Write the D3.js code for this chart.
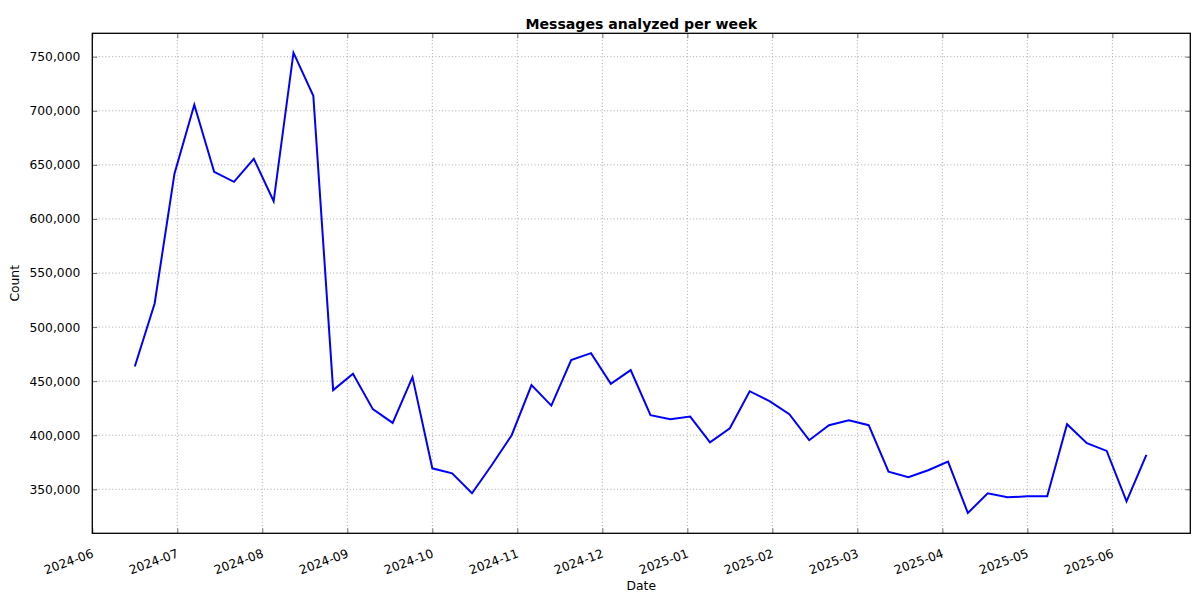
<!DOCTYPE html>
<html>
<head>
<meta charset="utf-8">
<script src="https://cdn.jsdelivr.net/npm/d3@7"></script>
<style>
  html, body { margin: 0; padding: 0; background: #fff; }
  svg { display: block; }
  svg text { font-family: "DejaVu Sans", sans-serif; }
</style>
</head>
<body>
<svg id="chart" width="1200" height="600"></svg>
<script>
const weeks = [
  "2024-07-01","2024-07-08","2024-07-15","2024-07-22","2024-07-29",
  "2024-08-05","2024-08-12","2024-08-19","2024-08-26",
  "2024-09-02","2024-09-09","2024-09-16","2024-09-23","2024-09-30",
  "2024-10-07","2024-10-14","2024-10-21","2024-10-28",
  "2024-11-04","2024-11-11","2024-11-18","2024-11-25",
  "2024-12-02","2024-12-09","2024-12-16","2024-12-23","2024-12-30",
  "2025-01-06","2025-01-13","2025-01-20","2025-01-27",
  "2025-02-03","2025-02-10","2025-02-17","2025-02-24",
  "2025-03-03","2025-03-10","2025-03-17","2025-03-24","2025-03-31",
  "2025-04-07","2025-04-14","2025-04-21","2025-04-28",
  "2025-05-05","2025-05-12","2025-05-19","2025-05-26",
  "2025-06-02","2025-06-09","2025-06-16","2025-06-23"
];
const counts = [
  463500, 521800, 641900, 705600, 643500,
  634300, 655600, 616300, 753700,
  713900, 441700, 456800, 424100, 411400,
  453700, 369400, 364800, 346300,
  372500, 400000, 446300, 427400,
  469400, 475900, 447500, 460200, 418500,
  414800, 417200, 393500, 406500,
  440700, 431500, 419400, 395400,
  409300, 413900, 409300, 366300, 361100,
  367600, 375600, 328100, 346300,
  342600, 343500, 343500, 410200,
  392600, 385500, 338900, 381800
];
const xTickDates = [
  "2024-06-16","2024-07-16","2024-08-15","2024-09-14","2024-10-14",
  "2024-11-13","2024-12-13","2025-01-12","2025-02-11","2025-03-13",
  "2025-04-12","2025-05-12","2025-06-11"
];
const xTickLabels = [
  "2024-06","2024-07","2024-08","2024-09","2024-10",
  "2024-11","2024-12","2025-01","2025-02","2025-03",
  "2025-04","2025-05","2025-06"
];
const yTicks = [350000, 400000, 450000, 500000, 550000, 600000, 650000, 700000, 750000];
const xDomain = ["2024-06-16T00:00:00Z", "2025-07-08T12:00:00Z"];
const yDomain = [309316, 771637];

(function () {
const FONT = '"DejaVu Sans", sans-serif';
const parse = s => new Date(s.length === 10 ? s + "T00:00:00Z" : s);
const data = weeks.map((w, i) => ({ date: parse(w), value: counts[i] }));

const pL = 92.3, pR = 1190.3, pT = 33.3, pB = 533.3;
const svg = d3.select("#chart");

const x = d3.scaleUtc().domain(xDomain.map(parse)).range([pL, pR]);
const y = d3.scaleLinear().domain(yDomain).range([pB, pT]);

const tickDates = xTickDates.map(parse);
const gridColor = "#a8a8a8";

// grid
const grid = svg.append("g");
grid.selectAll("line.vx").data(tickDates).join("line")
  .attr("x1", d => x(d)).attr("x2", d => x(d))
  .attr("y1", pT).attr("y2", pB)
  .attr("stroke", gridColor).attr("stroke-width", 1)
  .attr("stroke-dasharray", "1,2.3");
grid.selectAll("line.hy").data(yTicks).join("line")
  .attr("x1", pL).attr("x2", pR)
  .attr("y1", d => y(d)).attr("y2", d => y(d))
  .attr("stroke", gridColor).attr("stroke-width", 1)
  .attr("stroke-dasharray", "1,2.3");

// bottom axis (inward ticks)
const xAxis = d3.axisBottom(x).tickValues(tickDates)
  .tickFormat((d, i) => xTickLabels[i]).tickSizeInner(-5).tickSizeOuter(0);
const gx = svg.append("g").attr("transform", `translate(0,${pB})`).call(xAxis)
  .attr("font-family", FONT);
gx.select(".domain").remove();
gx.selectAll(".tick line").attr("stroke", "#707070");
gx.selectAll(".tick text")
  .attr("font-size", 12.3).attr("fill", "#000")
  .attr("text-anchor", "end")
  .attr("dy", null)
  .attr("y", 0)
  .attr("transform", "translate(1.5,23.5) rotate(-20)");

// top mirror ticks
const xTop = d3.axisTop(x).tickValues(tickDates).tickFormat("").tickSizeInner(-5).tickSizeOuter(0);
const gxt = svg.append("g").attr("transform", `translate(0,${pT})`).call(xTop);
gxt.select(".domain").remove();
gxt.selectAll(".tick line").attr("stroke", "#707070");

// left axis
const yAxis = d3.axisLeft(y).tickValues(yTicks).tickFormat(d3.format(",")).tickSizeInner(-5).tickSizeOuter(0).tickPadding(12);
const gy = svg.append("g").attr("transform", `translate(${pL},0)`).call(yAxis)
  .attr("font-family", FONT);
gy.select(".domain").remove();
gy.selectAll(".tick line").attr("stroke", "#707070");
gy.selectAll(".tick text").attr("font-size", 12.3).attr("fill", "#000");

// right mirror ticks
const yRight = d3.axisRight(y).tickValues(yTicks).tickFormat("").tickSizeInner(-5).tickSizeOuter(0);
const gyr = svg.append("g").attr("transform", `translate(${pR},0)`).call(yRight);
gyr.select(".domain").remove();
gyr.selectAll(".tick line").attr("stroke", "#707070");

// frame
svg.append("rect")
  .attr("x", pL).attr("y", pT)
  .attr("width", pR - pL).attr("height", pB - pT)
  .attr("fill", "none").attr("stroke", "#000").attr("stroke-width", 1.3);

// line
const line = d3.line().x(d => x(d.date)).y(d => y(d.value));
svg.append("path").datum(data)
  .attr("d", line)
  .attr("fill", "none")
  .attr("stroke", "#0000ff")
  .attr("stroke-width", 2)
  .attr("stroke-linejoin", "miter");

// title and labels
svg.append("text")
  .attr("x", (pL + pR) / 2).attr("y", 28.7)
  .attr("text-anchor", "middle")
  .attr("font-family", FONT)
  .attr("font-size", 14.1).attr("font-weight", "bold")
  .text("Messages analyzed per week");

svg.append("text")
  .attr("x", (pL + pR) / 2).attr("y", 589.5)
  .attr("text-anchor", "middle")
  .attr("font-family", FONT)
  .attr("font-size", 12.3)
  .text("Date");

svg.append("text")
  .attr("transform", `translate(19,${(pT + pB) / 2}) rotate(-90)`)
  .attr("text-anchor", "middle")
  .attr("font-family", FONT)
  .attr("font-size", 12.3)
  .text("Count");
})();
</script>
</body>
</html>
